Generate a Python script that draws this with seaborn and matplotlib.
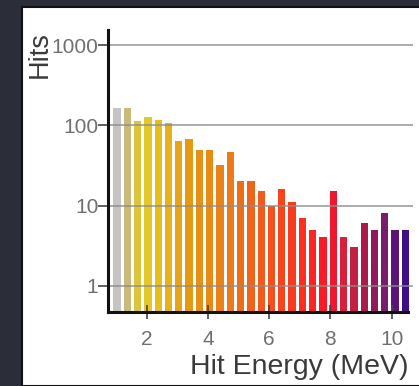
"""
Hit energy spectrum - log-scale histogram of hits per energy bin
"""

import numpy as np
import pandas as pd
import matplotlib
matplotlib.use("Agg")
import matplotlib.pyplot as plt
from matplotlib.patches import Rectangle
from matplotlib.ticker import FixedLocator, NullLocator
import seaborn as sns

# Data (hits per 1/3 MeV bin)
hits = [163, 163, 114, 129, 117, 108, 63, 67, 50, 50, 32, 47, 20, 20, 15,
        10, 16, 11, 7, 5, 4, 15, 4, 3, 6, 5, 8, 5, 5]
bin_centers = np.round(np.linspace(1.03, 10.45, len(hits)), 3)
bar_colors = ["#c4c4c4", "#c9b97a", "#dcc43c", "#e2c828", "#e4c01e", "#e6b21c",
              "#e6a418", "#e69a14", "#e69014", "#e88a14", "#ea8218", "#ec7a18",
              "#ee6e18", "#f0641a", "#f25a1c", "#f5501c", "#f8441c", "#fa3a1e",
              "#fc2e20", "#fe2424", "#fa1a28", "#ec1830", "#d8203c", "#c22042",
              "#aa1a4a", "#921a5a", "#7a1c6c", "#5a1478", "#3c1084"]
y_ticks = [1, 10, 100, 1000]
y_tick_labels = ["1", "10", "100", "1000"]
x_ticks = [2, 4, 6, 8, 10]
x_tick_labels = ["2", "4", "6", "8", "10"]

df = pd.DataFrame({"energy": bin_centers, "hits": hits,
                   "bin": [str(i) for i in range(len(hits))]})

W, H = 419, 386
fig = plt.figure(figsize=(W / 100, H / 100), dpi=100)
fig.patch.set_facecolor("#2b2e38")

# white panel with thin dark border on the left / top
fig.patches.append(Rectangle((22 / W, 0), 1, 1 - 7 / H, transform=fig.transFigure,
                             facecolor="white", edgecolor="#111111", linewidth=1.5,
                             zorder=-10))

ax = fig.add_axes([108 / W, 1 - 312 / H, 305 / W, 282 / H])
ax.set_facecolor("none")

sns.barplot(data=df, x="energy", y="hits", hue="bin", palette=bar_colors,
            native_scale=True, width=0.71, dodge=False, legend=False,
            saturation=1, ax=ax, zorder=1)

ax.set_yscale("log")
ax.set_ylim(0.47, 1550)
ax.set_xlim(0.735, 10.70)

ax.yaxis.set_major_locator(FixedLocator(y_ticks))
ax.set_yticklabels(y_tick_labels)
ax.yaxis.set_minor_locator(NullLocator())
ax.set_xticks(x_ticks)
ax.set_xticklabels(x_tick_labels)

# grid drawn over the bars
ax.set_axisbelow(False)
ax.yaxis.grid(True, color="#8c8c8c", linewidth=1.2, alpha=0.85)
ax.xaxis.grid(False)

for side in ["top", "right"]:
    ax.spines[side].set_visible(False)
for side in ["left", "bottom"]:
    ax.spines[side].set_color("#111111")
    ax.spines[side].set_linewidth(2.2)
    ax.spines[side].set_zorder(5)
ax.spines["bottom"].set_bounds(0.735, 10.53)

ax.tick_params(axis="y", direction="out", length=7, width=1.2, color="#444444",
               labelsize=15, labelcolor="#707070", pad=0)
ax.tick_params(axis="x", direction="inout", length=10, width=1.2, color="#444444",
               labelsize=15, labelcolor="#707070", pad=8)

ax.set_xlabel("")
ax.set_ylabel("")
fig.text(408 / W, 1 - 367 / H, "Hit Energy (MeV)", ha="right", va="center",
         fontsize=20.5, color="#3a3a3a", family="Liberation Sans")
fig.text(40 / W, 1 - 55 / H, "Hits", rotation=90, ha="center", va="center",
         fontsize=19.5, color="#3a3a3a", family="Liberation Sans")

for lbl in ax.get_xticklabels() + ax.get_yticklabels():
    lbl.set_family("Liberation Sans")

fig.savefig("out.png", dpi=100, facecolor=fig.get_facecolor())
